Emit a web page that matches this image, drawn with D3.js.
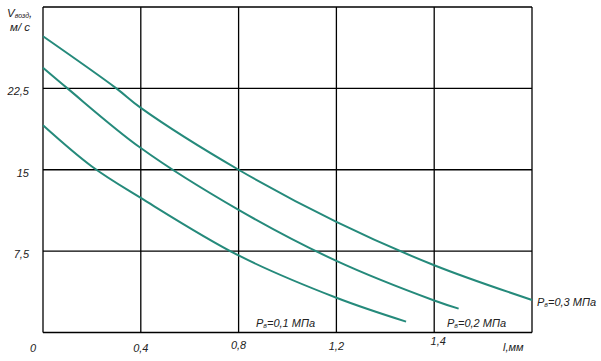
<!DOCTYPE html>
<html><head><meta charset="utf-8">
<script src="https://cdn.jsdelivr.net/npm/d3@7"></script>
<style>body{margin:0;background:#fff}svg{display:block}text{font-family:"Liberation Sans",Arial,sans-serif;font-style:italic;fill:#222}</style>
</head><body>
<svg id="c" width="601" height="361"></svg>
<script>
// Data (x in mm, y in m/s)
const xTickValues = [0, 0.4, 0.8, 1.2, 1.6, 2.0];
const xTickLabels = ["0", "0,4", "0,8", "1,2", "1,4"];
const xAxisLabel = "l,мм";
const yTickValues = [0, 7.5, 15, 22.5, 30];
const yTickLabels = ["0", "7,5", "15", "22,5"];
const seriesNames = ["0,1", "0,2", "0,3"];
const seriesP01 = [[0,19.1],[0.2,15.3],[0.4,12.4],[0.8,7.1],[1.2,3.2],[1.485,1.0]];
const seriesP02 = [[0,24.4],[0.1,22.5],[0.4,17.0],[0.8,11.3],[1.2,6.6],[1.6,2.95],[1.70,2.2]];
const seriesP03 = [[0,27.3],[0.3,22.5],[0.4,20.7],[0.8,15.0],[1.2,10.2],[1.6,6.2],[2.0,3.0]];

const svg = d3.select("#c");
const x = d3.scaleLinear().domain([0, 2]).range([43, 532]);
const y = d3.scaleLinear().domain([0, 30]).range([332.5, 7]);

// grid
const g = svg.append("g").attr("stroke", "#000").attr("stroke-width", 1.3);
xTickValues.forEach(v => g.append("line").attr("x1", x(v)).attr("x2", x(v)).attr("y1", y(0)).attr("y2", y(30)));
yTickValues.forEach(v => g.append("line").attr("x1", x(0)).attr("x2", x(2)).attr("y1", y(v)).attr("y2", y(v)));

// curves
const line = d3.line().x(d => x(d[0])).y(d => y(d[1])).curve(d3.curveCatmullRom);
[seriesP01, seriesP02, seriesP03].forEach(s => {
  svg.append("path").attr("d", line(s)).attr("fill", "none").attr("stroke", "#258a7b").attr("stroke-width", 2);
});

// y tick labels
yTickLabels.forEach((t, i) => {
  if (i === 0) return;
  svg.append("text").attr("x", 29).attr("y", y(yTickValues[i]) + 7).attr("text-anchor", "end").attr("font-size", 11).text(t);
});
// x tick labels
const xLabelDy = [352, 352, 349, 350, 345];
xTickLabels.forEach((t, i) => {
  const px = i === 0 ? x(0) - 10 : x(xTickValues[i]) + (i === 4 ? 4 : 0);
  svg.append("text").attr("x", px).attr("y", xLabelDy[i]).attr("text-anchor", "middle").attr("font-size", 11).text(t);
});
svg.append("text").attr("x", 503).attr("y", 351).attr("font-size", 11).text(xAxisLabel);

// y axis title
const yt = svg.append("text").attr("x", 7).attr("y", 17).attr("font-size", 11.5);
yt.append("tspan").text("V");
yt.append("tspan").attr("font-size", 7).attr("dy", 1).text("возд");
yt.append("tspan").attr("dy", -1).text(",");
svg.append("text").attr("x", 10).attr("y", 31).attr("font-size", 11.5).text("м/ с");

// series labels
const labelPos = [[256, 327], [447, 327], [537, 306]];
seriesNames.forEach((n, i) => {
  const t = svg.append("text").attr("x", labelPos[i][0]).attr("y", labelPos[i][1]).attr("font-size", 11);
  t.append("tspan").text("P");
  t.append("tspan").attr("font-size", 7).attr("dy", 1).text("в");
  t.append("tspan").attr("dy", -1).text("=" + n + " МПа");
});
</script>
</body></html>
